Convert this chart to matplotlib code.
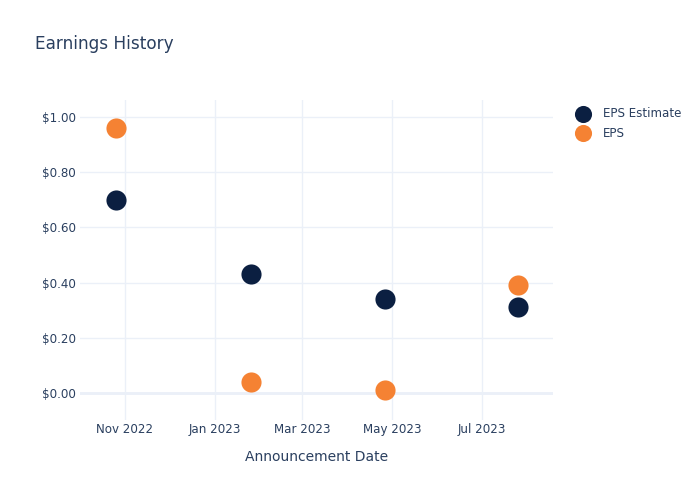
import matplotlib
matplotlib.use("Agg")
import matplotlib.pyplot as plt
import matplotlib.dates as mdates
import numpy as np
import datetime as dt

dates = ["2022-10-26", "2023-01-25", "2023-04-26", "2023-07-25"]
eps_estimate = [0.70, 0.43, 0.34, 0.31]
eps_actual = [0.96, 0.04, 0.01, 0.39]
series_names = ["EPS Estimate", "EPS"]
tick_dates = ["2022-11-01", "2023-01-01", "2023-03-01", "2023-05-01", "2023-07-01"]
y_ticks = [0.0, 0.2, 0.4, 0.6, 0.8, 1.0]

TEXT = "#2a3f5f"
GRID = "#ebf0f8"
NAVY = "#0b1f41"
ORANGE = "#f58233"

plt.rcParams['font.family'] = ['DejaVu Sans']

fig = plt.figure(figsize=(7, 5), dpi=100)
ax = fig.add_axes([80/700, 80/500, 473/700, 320/500])

x = [dt.datetime.strptime(d, "%Y-%m-%d") for d in dates]
ax.scatter(x, eps_estimate, s=210, color=NAVY, zorder=3, linewidths=0, label=series_names[0])
ax.scatter(x, eps_actual, s=210, color=ORANGE, zorder=3, linewidths=0, label=series_names[1])

ax.set_xlim(dt.datetime(2022, 10, 1, 12), dt.datetime(2023, 8, 17, 22))
ax.set_ylim(-0.098, 1.062)

xt = [dt.datetime.strptime(d, "%Y-%m-%d") for d in tick_dates]
ax.set_xticks(xt)
ax.xaxis.set_major_formatter(mdates.DateFormatter("%b %Y"))
ax.set_yticks(y_ticks)
ax.set_yticklabels([f"${v:.2f}" for v in y_ticks])

ax.tick_params(axis='both', length=0, colors=TEXT, labelsize=8.6)
ax.tick_params(axis='x', pad=2)
ax.tick_params(axis='y', pad=3)
ax.grid(True, color=GRID, linewidth=1, zorder=0)
ax.axhline(0, color=GRID, linewidth=2, zorder=1)
for s in ax.spines.values():
    s.set_visible(False)

ax.set_xlabel("Announcement Date", color=TEXT, fontsize=10, labelpad=10.5)

fig.text(35/700, 1 - 44/500, "Earnings History", color=TEXT, fontsize=12.2, va='center', ha='left')

leg = fig.legend(handles=ax.collections, labels=series_names, loc='upper left',
                 bbox_to_anchor=(571/700, 1 - 107/500), frameon=False,
                 fontsize=8.6, labelcolor=TEXT, handletextpad=0.65,
                 labelspacing=0.55, markerscale=0.85, borderaxespad=0, borderpad=0)

fig.savefig("out.png", dpi=100, facecolor="white")
